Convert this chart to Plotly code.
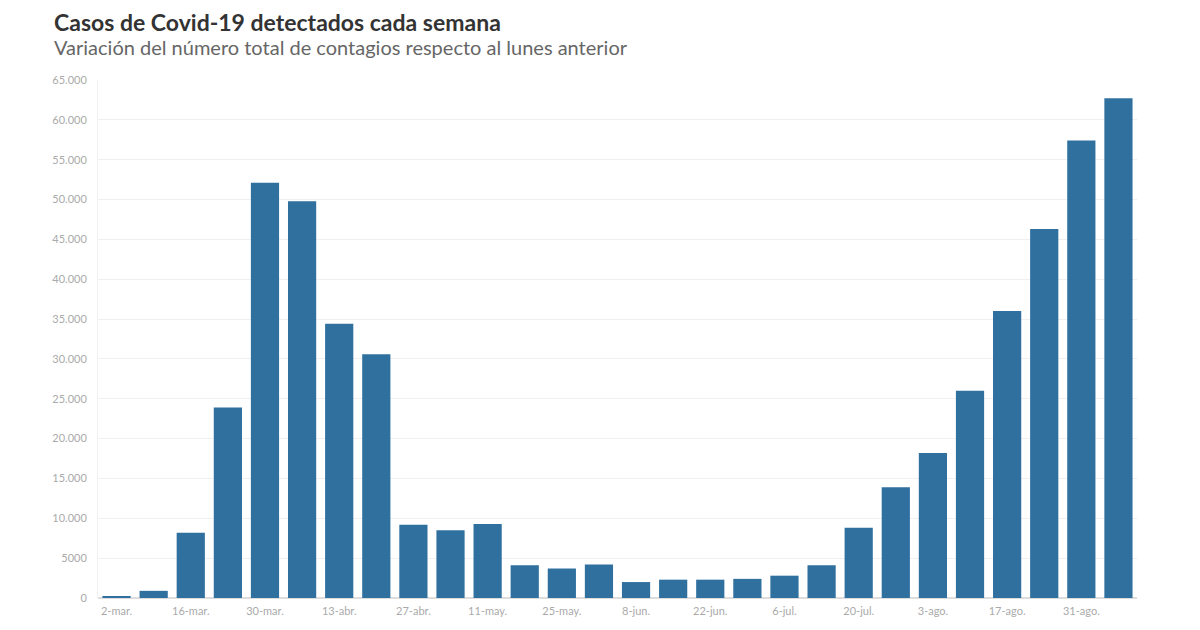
import plotly.graph_objects as go

weeks = ["2-mar.", "9-mar.", "16-mar.", "23-mar.", "30-mar.", "6-abr.", "13-abr.", "20-abr.",
         "27-abr.", "4-may.", "11-may.", "18-may.", "25-may.", "1-jun.", "8-jun.", "15-jun.",
         "22-jun.", "29-jun.", "6-jul.", "13-jul.", "20-jul.", "27-jul.", "3-ago.", "10-ago.",
         "17-ago.", "24-ago.", "31-ago.", "7-sep."]
cases = [150, 900, 8200, 23900, 52100, 49800, 34400, 30600,
         9200, 8500, 9300, 4100, 3700, 4200, 2000, 2300,
         2300, 2400, 2800, 4100, 8800, 13900, 18200, 26000,
         36000, 46300, 57400, 62700]
x_tick_labels = weeks[::2]
y_tick_values = list(range(0, 65001, 5000))
y_tick_labels = ["0", "5000", "10.000", "15.000", "20.000", "25.000", "30.000", "35.000",
                 "40.000", "45.000", "50.000", "55.000", "60.000", "65.000"]

L, R, T, B = 90, 71, 72, 40
PW = 1200 - L - R
PH = 630 - T - B

fig = go.Figure(go.Bar(x=weeks, y=cases, marker=dict(color="#2f709f", line=dict(width=0))))

fig.update_layout(
    width=1200, height=630,
    paper_bgcolor="white", plot_bgcolor="white",
    margin=dict(l=L, r=R, t=T, b=B),
    font=dict(family="Lato, Noto Sans, sans-serif", color="#aaaaaa", size=11),
    showlegend=False,
    bargap=0.24,
)
fig.add_annotation(text="<b>Casos de Covid-19 detectados cada semana</b>", xref="paper", yref="paper",
                   x=(44 - L) / PW, y=1 + (T - 14) / PH, xanchor="left", yanchor="middle", showarrow=False,
                   font=dict(size=23, color="#333333", family="Lato, sans-serif"))
fig.add_annotation(text="Variación del número total de contagios respecto al lunes anterior",
                   xref="paper", yref="paper",
                   x=(44 - L) / PW, y=1 + (T - 39) / PH, xanchor="left", yanchor="middle", showarrow=False,
                   font=dict(size=20, color="#666666", family="Lato, sans-serif"))

fig.update_xaxes(type="category", tickmode="array", tickvals=x_tick_labels, ticktext=x_tick_labels,
                 showgrid=False, showline=False, ticks="", tickfont=dict(size=11, color="#aaaaaa"),
                 tickangle=0, ticklabelstandoff=5)
fig.update_yaxes(range=[0, 65000], tickmode="array", tickvals=y_tick_values, ticktext=y_tick_labels,
                 showgrid=True, gridcolor="#f0f0f0", gridwidth=1, zeroline=True, zerolinecolor="#dddddd",
                 showline=True, linecolor="#f0f0f0", ticks="", ticklabelstandoff=8,
                 tickfont=dict(size=11, color="#aaaaaa"))

fig.write_html("out.html")
